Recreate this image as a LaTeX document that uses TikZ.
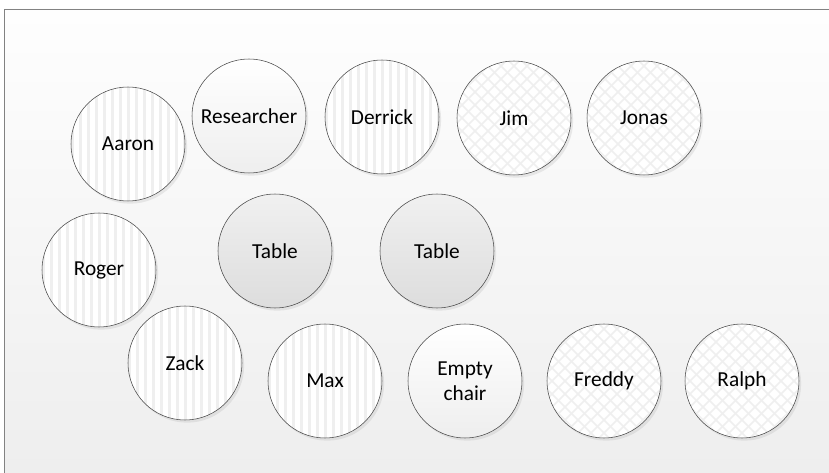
\documentclass[tikz,border=0pt]{standalone}
\usepackage{fontspec}
\setmainfont{Carlito}
\usetikzlibrary{shadows,calc}
\definecolor{rim}{RGB}{70,70,70}
\definecolor{frameline}{RGB}{130,130,130}
\definecolor{papertop}{RGB}{254,254,254}
\definecolor{paperbot}{RGB}{238,238,238}
\definecolor{streak}{RGB}{239,239,239}
\definecolor{woodtop}{RGB}{240,240,240}
\definecolor{woodbot}{RGB}{221,221,221}
\tikzset{
  seat/.style={circle,draw=rim,thin,minimum size=85.5pt,inner sep=0pt,align=center,
    font=\fontsize{16}{19}\selectfont,
    drop shadow={opacity=0.15,shadow xshift=1.6pt,shadow yshift=-2pt}},
  plain seat/.style={seat,top color=white,bottom color=paperbot},
  table seat/.style={seat,top color=woodtop,bottom color=woodbot},
  % vertical streaks
  striped seat/.style={seat,fill=white,path picture={
    \foreach \i in {-7,...,7}
      \fill[streak] ($(path picture bounding box.center)+(\i*8-1.5,-60)$) rectangle ++(3,120);
  }},
  % diagonal lattice
  hatched seat/.style={seat,fill=white,path picture={
    \foreach \i in {-10,...,10}{
      \draw[streak,line width=1.1pt] ($(path picture bounding box.center)+(\i*13-80,-80)$) -- ++(160,160);
      \draw[streak,line width=1.1pt] ($(path picture bounding box.center)+(\i*13-80,80)$) -- ++(160,-160);
    }
  }},
}
\begin{document}
\begin{tikzpicture}[x=0.75pt,y=-0.75pt]
  \useasboundingbox (0,0) rectangle (829,473);
  \shade[top color=papertop,bottom color=paperbot] (4,9) rectangle (829,473);
  \draw[frameline] (4,473) -- (4,9) -- (829,9);

  % back row
  \node[striped seat] (aaron) at (128,144) {Aaron};
  \node[plain seat] (researcher) at (249,116) {Researcher};
  \node[striped seat] (derrick) at (382,117) {Derrick};
  \node[hatched seat] (jim) at (514,118) {Jim};
  \node[hatched seat] (jonas) at (644,118) {Jonas};

  % tables
  \node[striped seat] (roger) at (99,270) {Roger};
  \node[table seat] (table a) at (275,251) {Table};
  \node[table seat] (table b) at (437,251) {Table};

  % front row
  \node[striped seat] (zack) at (185,363) {Zack};
  \node[striped seat] (max) at (325,381) {Max};
  \node[plain seat] (empty) at (465,381) {Empty\\chair};
  \node[hatched seat] (freddy) at (604,381) {Freddy};
  \node[hatched seat] (ralph) at (742,381) {Ralph};
\end{tikzpicture}
\end{document}
